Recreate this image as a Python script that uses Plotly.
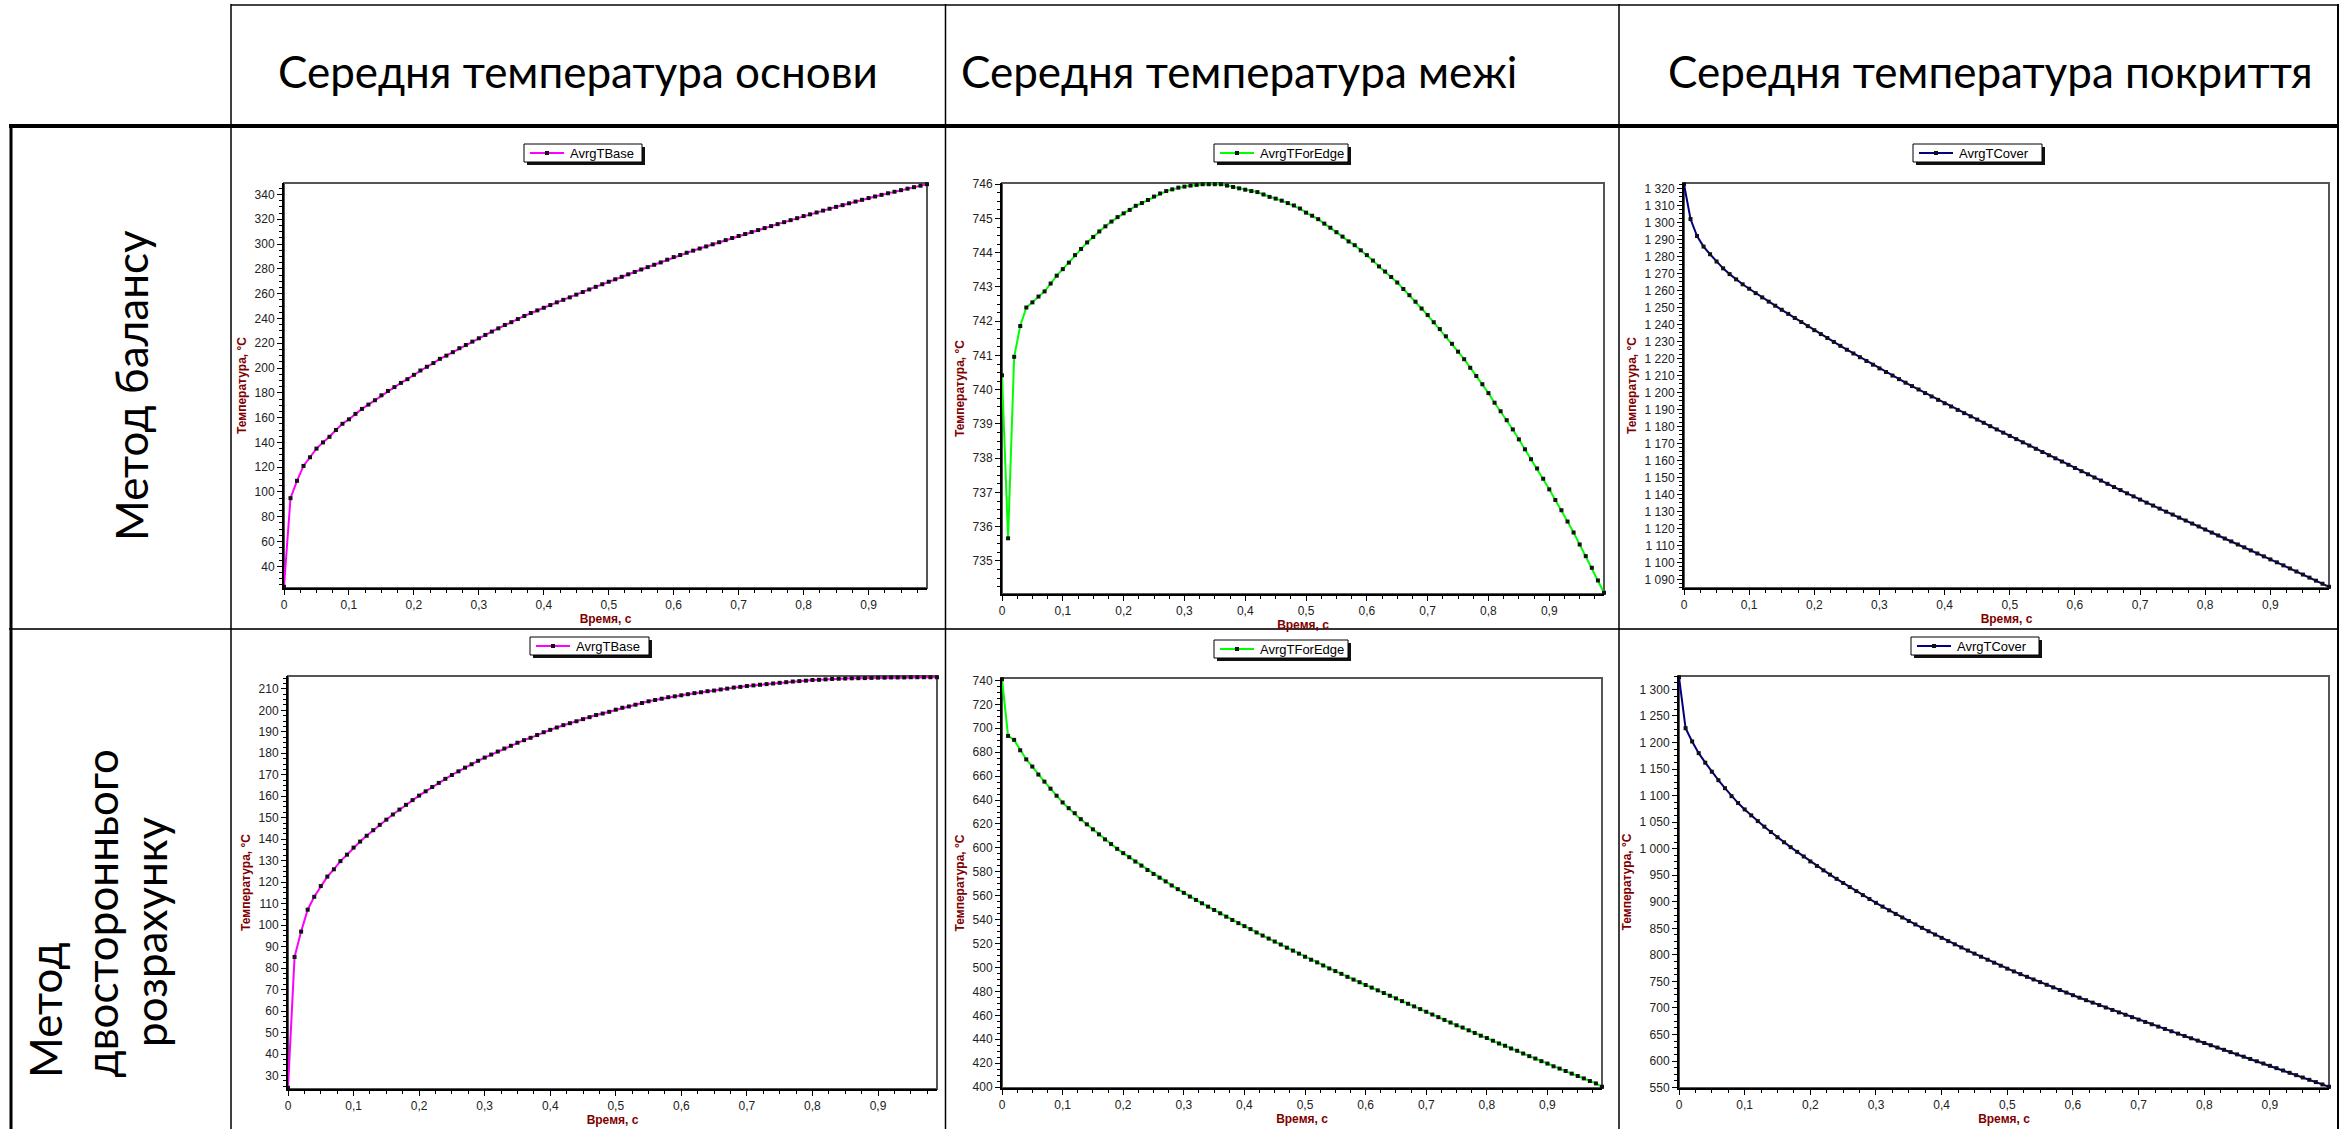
import plotly.graph_objects as go

W, H = 2348, 1129


def px(x):
    return x / W


def py(y):
    return 1 - y / H


# ---- data ---------------------------------------------------------------
time_s = [
    0.00, 0.01, 0.02, 0.03, 0.04, 0.05, 0.06, 0.07, 0.08, 0.09,
    0.10, 0.11, 0.12, 0.13, 0.14, 0.15, 0.16, 0.17, 0.18, 0.19,
    0.20, 0.21, 0.22, 0.23, 0.24, 0.25, 0.26, 0.27, 0.28, 0.29,
    0.30, 0.31, 0.32, 0.33, 0.34, 0.35, 0.36, 0.37, 0.38, 0.39,
    0.40, 0.41, 0.42, 0.43, 0.44, 0.45, 0.46, 0.47, 0.48, 0.49,
    0.50, 0.51, 0.52, 0.53, 0.54, 0.55, 0.56, 0.57, 0.58, 0.59,
    0.60, 0.61, 0.62, 0.63, 0.64, 0.65, 0.66, 0.67, 0.68, 0.69,
    0.70, 0.71, 0.72, 0.73, 0.74, 0.75, 0.76, 0.77, 0.78, 0.79,
    0.80, 0.81, 0.82, 0.83, 0.84, 0.85, 0.86, 0.87, 0.88, 0.89,
    0.90, 0.91, 0.92, 0.93, 0.94, 0.95, 0.96, 0.97, 0.98, 0.99,
]

# balance method
balance_base = [
    23.5, 95, 109, 121, 128, 135, 140, 144.5, 150, 155,
    158.6, 163, 167, 170.5, 174, 178, 181.5, 184.6, 188, 191,
    194.5, 198, 201, 204, 207.4, 210, 212.8, 216, 218.6, 221.3,
    224, 226.7, 229.4, 232, 234.7, 237, 239.5, 242, 244.4, 246.5,
    248.6, 250.8, 253, 255, 257, 259.2, 261.3, 263.4, 265.5, 267.6,
    269.6, 271.6, 273.6, 275.6, 277.5, 279.5, 281.4, 283.3, 285.2, 287.4,
    289.5, 291.2, 293, 294.7, 296.4, 298.1, 299.8, 301.5, 303.2, 304.9,
    306.5, 308.1, 309.7, 311.3, 312.9, 314.5, 316.1, 317.7, 319.3, 320.9,
    322.6, 324, 325.5, 327, 328.5, 330, 331.4, 332.9, 334.3, 335.7,
    337.1, 338.4, 339.7, 341, 342.2, 343.5, 344.7, 345.9, 347.1, 348.3,
]
balance_edge = [
    740.42, 735.66, 740.96, 741.86, 742.4, 742.55, 742.72, 742.87, 743.1, 743.33,
    743.52, 743.71, 743.93, 744.11, 744.3, 744.46, 744.62, 744.77, 744.91, 745.04,
    745.15, 745.25, 745.37, 745.45, 745.54, 745.64, 745.73, 745.8, 745.85, 745.9,
    745.93, 745.96, 745.98, 746.0, 746.0, 746.0, 746.0, 745.96, 745.92, 745.88,
    745.84, 745.8, 745.77, 745.7, 745.63, 745.58, 745.52, 745.45, 745.38, 745.29,
    745.17, 745.08, 744.98, 744.85, 744.73, 744.6, 744.47, 744.33, 744.22, 744.07,
    743.93, 743.77, 743.6, 743.45, 743.29, 743.13, 742.94, 742.76, 742.57, 742.37,
    742.18, 741.97, 741.77, 741.56, 741.34, 741.11, 740.89, 740.64, 740.4, 740.16,
    739.9, 739.62, 739.37, 739.11, 738.84, 738.55, 738.26, 737.97, 737.7, 737.4,
    737.09, 736.78, 736.48, 736.15, 735.83, 735.48, 735.14, 734.8, 734.43, 734.07,
]
balance_cover = [
    1322.5, 1302, 1292, 1285.8, 1281.3, 1277, 1273, 1269.6, 1266.5, 1263.6,
    1261, 1258.4, 1255.9, 1253.4, 1251, 1248.6, 1246.2, 1243.8, 1241.4, 1239,
    1236.6, 1234.3, 1232, 1229.7, 1227.4, 1225.1, 1222.9, 1220.7, 1218.5, 1216.3,
    1214.1, 1212, 1209.9, 1207.8, 1205.7, 1203.7, 1201.7, 1199.6, 1197.6, 1195.6,
    1193.6, 1191.7, 1189.7, 1187.8, 1185.9, 1184, 1182.1, 1180.1, 1178.2, 1176.3,
    1174.4, 1172.5, 1170.6, 1168.7, 1166.8, 1164.9, 1163, 1161.2, 1159.3, 1157.4,
    1155.5, 1153.6, 1151.8, 1149.9, 1148.1, 1146.2, 1144.3, 1142.5, 1140.6, 1138.8,
    1136.9, 1135.1, 1133.4, 1131.6, 1129.8, 1128.1, 1126.3, 1124.6, 1122.8, 1121.1,
    1119.3, 1117.5, 1115.8, 1114, 1112.3, 1110.5, 1108.8, 1107, 1105.2, 1103.5,
    1101.7, 1100, 1098.2, 1096.4, 1094.6, 1092.8, 1091, 1089.2, 1087.4, 1085.6,
]

# two-sided calculation method
twoside_base = [
    24.3, 85.2, 97, 107.2, 113.2, 118.2, 122.6, 126, 129.8, 132.8,
    136.1, 138.9, 141.6, 144.2, 146.7, 149.1, 151.5, 153.8, 156, 158.2,
    160.3, 162.3, 164.3, 166.2, 168.1, 169.9, 171.6, 173.3, 174.9, 176.5,
    178, 179.4, 180.8, 182.2, 183.5, 184.9, 186.1, 187.2, 188.5, 189.8,
    190.9, 192, 193.1, 194, 194.9, 195.9, 196.8, 197.8, 198.5, 199.3,
    200.3, 201.2, 201.8, 202.6, 203.4, 204.2, 204.8, 205.4, 206.1, 206.5,
    207, 207.5, 208, 208.4, 208.9, 209.2, 209.7, 210.1, 210.6, 210.9,
    211.3, 211.6, 211.9, 212.2, 212.5, 212.8, 213.1, 213.4, 213.6, 213.8,
    214.1, 214.2, 214.4, 214.6, 214.7, 214.8, 214.9, 214.95, 215.0, 215.1,
    215.2, 215.2, 215.3, 215.3, 215.3, 215.4, 215.4, 215.4, 215.4, 215.4,
]
twoside_edge = [
    741, 693.6, 690.3, 681.6, 674, 668, 661.3, 655.4, 649.5, 643.6,
    638, 633.2, 629, 624, 619.7, 615.5, 611.3, 607.1, 603.2, 599.2,
    595.6, 592.2, 588.6, 585.2, 581.5, 578.2, 575.1, 572, 568.6, 565.5,
    562.4, 559.3, 556.5, 553.7, 550.9, 548.1, 545.3, 542.5, 539.7, 537.1,
    534.6, 532.1, 529.3, 526.7, 524.2, 521.7, 519.2, 516.6, 514.1, 511.6,
    509, 506.5, 504.3, 501.7, 499.2, 497, 494.7, 492.2, 489.9, 487.7,
    485.4, 483.2, 480.9, 478.7, 476.4, 474.2, 471.9, 469.7, 467.5, 465.2,
    463, 460.7, 458.5, 456.2, 454, 451.7, 449.8, 447.5, 445.3, 443,
    441.1, 438.8, 436.5, 434.6, 432.3, 430.4, 428.1, 425.9, 423.9, 421.7,
    419.7, 417.4, 415.5, 413.5, 411.3, 409.3, 407.3, 405.1, 403.1, 400.3,
]
twoside_cover = [
    1323, 1227, 1202, 1180, 1162, 1145, 1129, 1114, 1099, 1086,
    1074, 1062.8, 1052, 1041.5, 1031.4, 1021.6, 1012.1, 1002.9, 994, 985.3,
    976, 967.5, 959.2, 951.1, 943.2, 935.4, 927.7, 920.1, 912.6, 905.2,
    898, 890.9, 883.9, 877.1, 870.4, 863.8, 857.3, 850.9, 844.5, 838.2,
    832, 825.9, 819.9, 814, 808.1, 802.3, 796.5, 790.8, 785.2, 779.6,
    774, 768.8, 763.7, 758.6, 753.6, 748.6, 743.6, 738.7, 733.8, 728.9,
    724, 719.3, 714.6, 710, 705.4, 700.8, 696.2, 691.6, 687.1, 682.6,
    678, 673.6, 669.2, 664.8, 660.4, 656, 651.6, 647.2, 642.8, 638.4,
    634, 629.7, 625.4, 621.1, 616.8, 612.5, 608.2, 603.9, 599.6, 595.3,
    591, 586.6, 582.2, 577.8, 573.4, 569, 564.6, 560.3, 555.9, 551.5,
]

series_names = ["AvrgTBase", "AvrgTForEdge", "AvrgTCover"]
series_colors = ["#FF00FF", "#00FF00", "#000080"]

column_titles = [
    "Середня температура основи",
    "Середня температура межі",
    "Середня температура покриття",
]
row_title_1 = "Метод балансу"
row_title_2 = ["Метод", "двостороннього", "розрахунку"]

x_title = "Время, с"
y_title = "Температура, °C"

# ---- panel geometry (pixels) --------------------------------------------
panels = [
    dict(y=balance_base, s=0, dtick=20, plot=(284, 183, 927, 588), leg=(524, 144, 642, 162)),
    dict(y=balance_edge, s=1, dtick=1, plot=(1002, 183, 1604, 594), leg=(1214, 144, 1348, 162)),
    dict(y=balance_cover, s=2, dtick=10, plot=(1684, 183, 2329, 588), leg=(1913, 144, 2042, 162)),
    dict(y=twoside_base, s=0, dtick=10, plot=(288, 676, 937, 1089), leg=(530, 637, 649, 655)),
    dict(y=twoside_edge, s=1, dtick=20, plot=(1002, 678, 1602, 1088), leg=(1214, 640, 1348, 658)),
    dict(y=twoside_cover, s=2, dtick=50, plot=(1679, 676, 2329, 1088), leg=(1911, 637, 2039, 655)),
]

TICK_FONT = dict(family="Liberation Sans, Arial, sans-serif", size=12, color="#222222")
TITLE_FONT = dict(family="Liberation Sans, Arial, sans-serif", size=12, color="#800000")
CELL_FONT = dict(family="Lato, 'Open Sans', sans-serif", size=44, color="#000000")

fig = go.Figure()
shapes = []
annotations = []
layout_axes = {}

for i, p in enumerate(panels, start=1):
    xa = "x" if i == 1 else f"x{i}"
    ya = "y" if i == 1 else f"y{i}"
    color = series_colors[p["s"]]
    fig.add_trace(go.Scatter(
        x=time_s, y=p["y"], xaxis=xa, yaxis=ya,
        mode="lines+markers",
        line=dict(color=color, width=2),
        marker=dict(symbol="square", size=4, color="#111111"),
        cliponaxis=False, showlegend=False, name=series_names[p["s"]],
    ))
    x0, y0, x1, y1 = p["plot"]
    lo, hi = min(p["y"]), max(p["y"])
    pad = (hi - lo) * 0.003
    common = dict(
        showgrid=False, zeroline=False, showline=True, linecolor="black",
        linewidth=2, ticks="outside", ticklen=5, tickwidth=1, tickcolor="black",
        tickfont=TICK_FONT, automargin=False,
    )
    layout_axes["xaxis" if i == 1 else f"xaxis{i}"] = dict(
        domain=[px(x0), px(x1)], anchor=ya, range=[0, 0.99],
        tick0=0, dtick=0.1,
        minor=dict(ticks="outside", ticklen=3, tickcolor="black", dtick=0.025, showgrid=False),
        title=dict(text=f"<b>{x_title}</b>", font=TITLE_FONT, standoff=1),
        **common,
    )
    layout_axes["yaxis" if i == 1 else f"yaxis{i}"] = dict(
        domain=[py(y1), py(y0)], anchor=xa, range=[lo - pad, hi + pad],
        tick0=0, dtick=p["dtick"], separatethousands=True,
        minor=dict(ticks="outside", ticklen=3, tickcolor="black",
                   dtick=p["dtick"] / 4, showgrid=False),
        title=dict(text=f"<b>{y_title}</b>", font=TITLE_FONT, standoff=5),
        **common,
    )
    # top / right frame of the plot area
    shapes.append(dict(type="rect", xref=f"{xa} domain", yref=f"{ya} domain",
                       x0=0, x1=1, y0=0, y1=1, line=dict(color="#555555", width=2),
                       layer="below"))

    # legend box with drop shadow
    lx0, ly0, lx1, ly1 = p["leg"]
    shapes.append(dict(type="rect", xref="paper", yref="paper",
                       x0=px(lx0 + 3), x1=px(lx1 + 3), y0=py(ly1 + 3), y1=py(ly0 + 3),
                       fillcolor="#111111", line=dict(width=0)))
    shapes.append(dict(type="rect", xref="paper", yref="paper",
                       x0=px(lx0), x1=px(lx1), y0=py(ly1), y1=py(ly0),
                       fillcolor="white", line=dict(color="black", width=1)))
    ymid = (ly0 + ly1) / 2
    shapes.append(dict(type="line", xref="paper", yref="paper",
                       x0=px(lx0 + 6), x1=px(lx0 + 40), y0=py(ymid), y1=py(ymid),
                       line=dict(color=color, width=2)))
    shapes.append(dict(type="rect", xref="paper", yref="paper",
                       x0=px(lx0 + 21), x1=px(lx0 + 25), y0=py(ymid + 2), y1=py(ymid - 2),
                       fillcolor="#111111", line=dict(width=0)))
    annotations.append(dict(text=series_names[p["s"]], xref="paper", yref="paper",
                            x=px(lx0 + 44), y=py(ymid), xanchor="left", yanchor="middle",
                            showarrow=False, font=dict(family="Liberation Sans, Arial, sans-serif",
                                                       size=13, color="black")))

# ---- table grid -----------------------------------------------------------
def hline(y, xa, xb, w, c="black"):
    shapes.append(dict(type="line", xref="paper", yref="paper", x0=px(xa), x1=px(xb),
                       y0=py(y), y1=py(y), line=dict(color=c, width=w)))


def vline(x, ya, yb, w, c="black"):
    shapes.append(dict(type="line", xref="paper", yref="paper", x0=px(x), x1=px(x),
                       y0=py(ya), y1=py(yb), line=dict(color=c, width=w)))


hline(5, 231, 2339, 2, "#444444")
hline(126, 9, 2339, 4)
hline(629, 9, 2339, 2, "#333333")
vline(11, 124, 1129, 3)
vline(231, 4, 1129, 1.5)
vline(945.5, 4, 1129, 1.5)
vline(1619, 4, 1129, 1.5)
vline(2338, 4, 1129, 2)

# ---- cell captions ----------------------------------------------------------
for text, cx in zip(column_titles, [578, 1239, 1990]):
    annotations.append(dict(text=text, xref="paper", yref="paper", x=px(cx), y=py(71),
                            xanchor="center", yanchor="middle", showarrow=False,
                            font=CELL_FONT))

annotations.append(dict(text=row_title_1, xref="paper", yref="paper", x=px(131), y=py(386),
                        xanchor="center", yanchor="middle", textangle=-90,
                        showarrow=False, font=CELL_FONT))
# second row caption: first two lines start at the same height, last one centred
for text, cx, cy, anchor in zip(row_title_2, [45, 100, 150], [1080, 1080, 932],
                                ["bottom", "bottom", "middle"]):
    annotations.append(dict(text=text, xref="paper", yref="paper", x=px(cx), y=py(cy),
                            xanchor="center", yanchor=anchor, textangle=-90,
                            showarrow=False, font=CELL_FONT))

fig.update_layout(
    width=W, height=H,
    margin=dict(l=0, r=0, t=0, b=0),
    paper_bgcolor="white", plot_bgcolor="white",
    separators=", ",
    showlegend=False,
    shapes=shapes, annotations=annotations,
    **layout_axes,
)

fig.write_html("out.html")
